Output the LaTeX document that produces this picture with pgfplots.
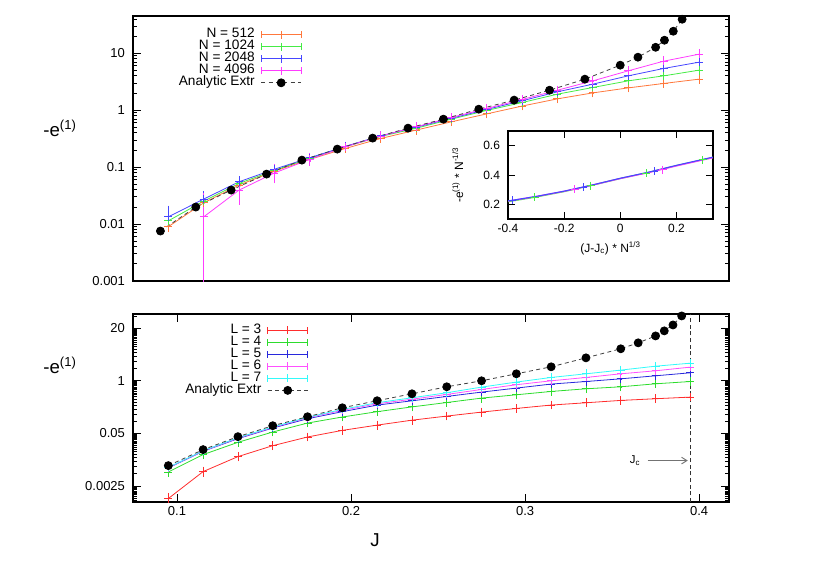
\documentclass[border=0pt]{standalone}
\usepackage{fontspec}
\setmainfont{Liberation Sans}
\usepackage{pgfplots}
\pgfplotsset{compat=1.18}
\usetikzlibrary{arrows.meta}

\definecolor{cOrange}{RGB}{255,120,60}
\definecolor{cLgreen}{RGB}{70,235,70}
\definecolor{cLblue}{RGB}{70,70,255}
\definecolor{cLmag}{RGB}{255,60,255}
\definecolor{cRed}{RGB}{255,45,45}
\definecolor{cGreen}{RGB}{45,220,45}
\definecolor{cBlue}{RGB}{40,40,220}
\definecolor{cMag}{RGB}{255,80,255}
\definecolor{cCyan}{RGB}{50,250,250}

\pgfplotsset{
  panel/.style={
    scale only axis, anchor=south west,
    tick align=inside, major tick length=6pt, minor tick length=3pt,
    axis line style={line width=0.8pt},
    every tick/.style={black, line width=0.6pt},
    tick label style={font=\fontsize{9.75}{11}\selectfont},
    yticklabel style={xshift=-2.5pt},
    legend plot pos=right, legend cell align=right,
    legend style={draw=none, fill=none, font=\fontsize{10.25}{11}\selectfont,
      row sep=-1.3pt, column sep=4pt,
      nodes={inner sep=0.5pt, text height=7pt, text depth=2.3pt}},
  },
  ser/.style={line width=0.6pt, mark=+, mark size=3pt,
    error bars/.cd, y dir=both, y explicit,
    error mark options={mark size=3pt, line width=0.6pt}},
  ebleg/.style={legend image code/.code={
      \draw[##1, mark=none] (0pt,0pt) -- (30pt,0pt);
      \draw[##1, mark=none] (0pt,-2.5pt) -- (0pt,2.5pt) (30pt,-2.5pt) -- (30pt,2.5pt);
      \draw[##1] plot coordinates {(15pt,0pt)};
    }},
  extr/.style={black!75, line width=0.6pt, dash pattern=on 3pt off 2.5pt,
    mark=*, mark size=3pt, mark options={solid, fill=black, draw=black}},
  exleg/.style={legend image code/.code={
      \draw[mark repeat=2, mark phase=2, ##1] plot coordinates {(0pt,0pt) (15pt,0pt) (30pt,0pt)};
    }},
}

\begin{document}
\begin{tikzpicture}
\path[use as bounding box] (0,0) rectangle (622.5pt,440.25pt);

% ---------- top panel ----------
\begin{axis}[panel,
  at={(99.75pt,229.5pt)}, width=447pt, height=198.75pt,
  ymode=log, xmin=0.075, xmax=0.412, ymin=0.001, ymax=45,
  xtick=\empty,
  ytick={0.001,0.01,0.1,1,10}, yticklabels={0.001,0.01,0.1,1,10},
  minor ytick={0.002,0.003,0.004,0.005,0.006,0.007,0.008,0.009,
    0.02,0.03,0.04,0.05,0.06,0.07,0.08,0.09,
    0.2,0.3,0.4,0.5,0.6,0.7,0.8,0.9,
    2,3,4,5,6,7,8,9,20,30,40},
  legend style={at={(0.29,0.966)}, anchor=north east},
]
\addplot[cOrange, ebleg, ser] coordinates {
  (0.095,0.0090) +- (0,0.0005) (0.115,0.0236) +- (0,0.0008)
  (0.135,0.0484) +- (0,0.0012) (0.155,0.085) +- (0,0.002)
  (0.175,0.137) +- (0,0.003) (0.195,0.212) +- (0,0.004)
  (0.215,0.318) +- (0,0.006) (0.235,0.446) +- (0,0.008)
  (0.255,0.624) +- (0,0.01) (0.275,0.86) +- (0,0.015)
  (0.295,1.18) +- (0,0.02) (0.315,1.58) +- (0,0.03)
  (0.335,2.01) +- (0,0.04) (0.355,2.46) +- (0,0.05)
  (0.375,2.94) +- (0,0.06) (0.395,3.50) +- (0,0.07)
};
\addlegendentry{N = 512}
\addplot[cLgreen, ebleg, ser] coordinates {
  (0.095,0.0114) +- (0,0.0015) (0.115,0.0253) +- (0,0.0015)
  (0.135,0.0517) +- (0,0.002) (0.155,0.088) +- (0,0.003)
  (0.175,0.142) +- (0,0.004) (0.195,0.227) +- (0,0.005)
  (0.215,0.345) +- (0,0.007) (0.235,0.48) +- (0,0.01)
  (0.255,0.695) +- (0,0.014) (0.275,0.99) +- (0,0.02)
  (0.295,1.36) +- (0,0.03) (0.315,1.91) +- (0,0.04)
  (0.335,2.5) +- (0,0.05) (0.355,3.27) +- (0,0.07)
  (0.375,4.0) +- (0,0.09) (0.395,5.03) +- (0,0.11)
};
\addlegendentry{N = 1024}
\addplot[cLblue, ebleg, ser] coordinates {
  (0.095,0.0134) +- (0,0.0046) (0.115,0.0275) +- (0,0.0052)
  (0.135,0.0553) +- (0,0.004) (0.155,0.092) +- (0,0.004)
  (0.175,0.146) +- (0,0.005) (0.195,0.231) +- (0,0.006)
  (0.215,0.355) +- (0,0.008) (0.235,0.50) +- (0,0.012)
  (0.255,0.72) +- (0,0.016) (0.275,1.03) +- (0,0.024)
  (0.295,1.46) +- (0,0.035) (0.315,2.10) +- (0,0.05)
  (0.335,2.86) +- (0,0.07) (0.355,4.0) +- (0,0.1)
  (0.375,5.39) +- (0,0.13) (0.395,6.95) +- (0,0.17)
};
\addlegendentry{N = 2048}
\addplot[cLmag, ebleg, ser] coordinates {
  (0.115,0.0134) += (0,0.017) -= (0,0.0129)
  (0.135,0.0395) += (0,0.009) -= (0,0.014)
  (0.155,0.079) +- (0,0.018) (0.175,0.137) +- (0,0.012)
  (0.195,0.227) +- (0,0.01) (0.215,0.35) +- (0,0.01)
  (0.235,0.51) +- (0,0.014) (0.255,0.744) +- (0,0.02)
  (0.275,1.07) +- (0,0.03) (0.295,1.54) +- (0,0.045)
  (0.315,2.24) +- (0,0.065) (0.335,3.27) +- (0,0.1)
  (0.355,4.9) +- (0,0.15) (0.375,7.24) +- (0,0.22)
  (0.395,9.6) +- (0,0.3)
};
\addlegendentry{N = 4096}
\addplot[extr, exleg] coordinates {
  (0.0905,0.00754) (0.1105,0.0199) (0.1305,0.0395) (0.1505,0.0754)
  (0.1705,0.1327) (0.1905,0.207) (0.2105,0.323) (0.2305,0.483)
  (0.2505,0.695) (0.2705,1.04) (0.2905,1.50) (0.3105,2.24)
  (0.3305,3.50) (0.3505,6.16) (0.3605,8.51) (0.3705,12.7)
  (0.3755,16.9) (0.3805,24.3) (0.3855,39.5)
};
\addlegendentry{Analytic Extr}
\end{axis}

% ---------- inset ----------
\begin{axis}[panel,
  at={(381pt,276pt)}, width=153.75pt, height=66pt,
  axis background/.style={fill=white},
  major tick length=5pt,
  tick label style={font=\fontsize{9}{10}\selectfont},
  label style={font=\fontsize{9}{10}\selectfont},
  xmin=-0.4, xmax=0.33, ymin=0.1, ymax=0.7,
  xtick={-0.4,-0.2,0,0.2}, xticklabels={-0.4,-0.2,0,0.2},
  ytick={0.2,0.4,0.6}, yticklabels={0.2,0.4,0.6},
  xlabel={(J-J\textsubscript{c}) * N\textsuperscript{1/3}},
  ylabel={-e\textsuperscript{(1)} * N\textsuperscript{-1/3}},
  xlabel style={at={(0.5,-0.33)}, anchor=center},
  ylabel style={at={(-0.245,0.5)}, anchor=center},
]
\addplot[cLgreen, line width=0.9pt] coordinates {
  (-0.4,0.218) (-0.3,0.250) (-0.2,0.287) (-0.1,0.330) (0,0.376) (0.1,0.418) (0.2,0.464) (0.33,0.520)};
\addplot[cLmag, line width=0.9pt] coordinates {
  (-0.4,0.222) (-0.3,0.253) (-0.2,0.289) (-0.1,0.331) (0,0.376) (0.1,0.416) (0.2,0.462) (0.33,0.518)};
\addplot[cLblue, line width=0.8pt] coordinates {
  (-0.4,0.223) (-0.3,0.254) (-0.2,0.290) (-0.1,0.332) (0,0.378) (0.1,0.419) (0.2,0.466) (0.33,0.522)};
\addplot[cLgreen, only marks, mark=+, mark size=3pt, line width=0.6pt] coordinates {
  (-0.305,0.250) (-0.106,0.327) (0.092,0.412) (0.294,0.503)};
\addplot[cLmag, only marks, mark=+, mark size=3pt, line width=0.6pt] coordinates {
  (-0.163,0.302) (0.151,0.437)};
\addplot[cLblue, only marks, mark=+, mark size=3pt, line width=0.6pt] coordinates {
  (-0.385,0.227) (-0.132,0.317) (0.12,0.426)};
\end{axis}

% ---------- bottom panel ----------
\begin{axis}[panel,
  at={(99.75pt,63.75pt)}, width=447pt, height=141pt,
  ymode=log, xmin=0.0747, xmax=0.4172, ymin=0.001, ymax=45,
  xtick={0.1,0.2,0.3,0.4}, xticklabels={0.1,0.2,0.3,0.4},
  ytick={0.0025,0.05,1,20}, yticklabels={0.0025,0.05,1,20},
  minor ytick={0.001,0.001125,0.00125,0.001375,0.0015,0.001625,0.00175,0.001875,0.002,0.002125,0.00225,0.002375,
    0.005,0.0075,0.01,0.0125,0.015,0.0175,0.02,0.0225,0.025,0.0275,0.03,0.0325,0.035,0.0375,0.04,0.0425,0.045,0.0475,
    0.1,0.15,0.2,0.25,0.3,0.35,0.4,0.45,0.5,0.55,0.6,0.65,0.7,0.75,0.8,0.85,0.9,0.95,
    2,3,4,5,6,7,8,9,10,11,12,13,14,15,16,17,18,19,40},
  legend style={at={(0.301,0.965)}, anchor=north east},
]
\addplot[cRed, ebleg, ser] coordinates {
  (0.095,0.00122) +- (0,0.00012) (0.115,0.00566) +- (0,0.0003)
  (0.135,0.0133) +- (0,0.0005) (0.155,0.0248) +- (0,0.0008)
  (0.175,0.0407) +- (0,0.001) (0.195,0.0593) +- (0,0.0015)
  (0.215,0.080) +- (0,0.002) (0.235,0.106) +- (0,0.0025)
  (0.255,0.134) +- (0,0.003) (0.275,0.168) +- (0,0.004)
  (0.295,0.207) +- (0,0.005) (0.315,0.251) +- (0,0.006)
  (0.335,0.286) +- (0,0.007) (0.355,0.327) +- (0,0.008)
  (0.375,0.36) +- (0,0.009) (0.395,0.395) +- (0,0.01)
};
\addlegendentry{L = 3}
\addplot[cGreen, ebleg, ser] coordinates {
  (0.095,0.00556) +- (0,0.0002) (0.115,0.0149) +- (0,0.0004)
  (0.135,0.030) +- (0,0.0008) (0.155,0.054) +- (0,0.0013)
  (0.175,0.090) +- (0,0.002) (0.195,0.127) +- (0,0.003)
  (0.215,0.172) +- (0,0.004) (0.235,0.226) +- (0,0.005)
  (0.255,0.29) +- (0,0.007) (0.275,0.373) +- (0,0.009)
  (0.295,0.451) +- (0,0.011) (0.315,0.545) +- (0,0.013)
  (0.335,0.634) +- (0,0.015) (0.355,0.711) +- (0,0.017)
  (0.375,0.843) +- (0,0.02) (0.395,0.96) +- (0,0.023)
};
\addlegendentry{L = 4}
\addplot[cBlue, ebleg, ser] coordinates {
  (0.095,0.0070) +- (0,0.0002) (0.115,0.018) +- (0,0.0005)
  (0.135,0.037) +- (0,0.001) (0.155,0.0678) +- (0,0.0017)
  (0.175,0.115) +- (0,0.003) (0.195,0.172) +- (0,0.004)
  (0.215,0.25) +- (0,0.006) (0.235,0.32) +- (0,0.008)
  (0.255,0.41) +- (0,0.01) (0.275,0.525) +- (0,0.013)
  (0.295,0.66) +- (0,0.016) (0.315,0.83) +- (0,0.02)
  (0.335,0.96) +- (0,0.023) (0.355,1.12) +- (0,0.027)
  (0.375,1.33) +- (0,0.032) (0.395,1.58) +- (0,0.038)
};
\addlegendentry{L = 5}
\addplot[cMag, ebleg, ser] coordinates {
  (0.095,0.0071) +- (0,0.0002) (0.115,0.0183) +- (0,0.0005)
  (0.135,0.038) +- (0,0.001) (0.155,0.070) +- (0,0.0017)
  (0.175,0.122) +- (0,0.003) (0.195,0.185) +- (0,0.0045)
  (0.215,0.27) +- (0,0.0065) (0.235,0.35) +- (0,0.0085)
  (0.255,0.46) +- (0,0.011) (0.275,0.61) +- (0,0.015)
  (0.295,0.80) +- (0,0.02) (0.315,1.0) +- (0,0.025)
  (0.335,1.21) +- (0,0.03) (0.355,1.49) +- (0,0.036)
  (0.375,1.77) +- (0,0.043) (0.395,2.18) +- (0,0.053)
};
\addlegendentry{L = 6}
\addplot[cCyan, ebleg, ser] coordinates {
  (0.095,0.0072) +- (0,0.0002) (0.115,0.0186) +- (0,0.0005)
  (0.135,0.039) +- (0,0.001) (0.155,0.072) +- (0,0.0018)
  (0.175,0.125) +- (0,0.003) (0.195,0.196) +- (0,0.005)
  (0.215,0.287) +- (0,0.007) (0.235,0.38) +- (0,0.009)
  (0.255,0.506) +- (0,0.012) (0.275,0.698) +- (0,0.017)
  (0.295,0.93) +- (0,0.022) (0.315,1.21) +- (0,0.03)
  (0.335,1.49) +- (0,0.036) (0.355,1.84) +- (0,0.045)
  (0.375,2.3) +- (0,0.055) (0.395,2.73) +- (0,0.066)
};
\addlegendentry{L = 7}
\addplot[extr, exleg] coordinates {
  (0.095,0.00796) (0.115,0.0198) (0.135,0.0414) (0.155,0.0774)
  (0.175,0.129) (0.195,0.215) (0.215,0.321) (0.235,0.477)
  (0.255,0.711) (0.275,1.0) (0.295,1.49) (0.315,2.22)
  (0.335,3.70) (0.355,6.2) (0.365,8.7) (0.375,12.9)
  (0.38,17.2) (0.385,24.1) (0.39,40.3)
};
\addlegendentry{Analytic Extr}
\addplot[black!80, line width=0.6pt, dash pattern=on 3pt off 2pt, forget plot]
  coordinates {(0.3952,0.001) (0.3952,45)};
\draw[black!55, line width=0.7pt, -{Straight Barb[length=4pt,width=5pt]}]
  (axis cs:0.3705,0.0106) -- (axis cs:0.3935,0.0106);
\node[font=\fontsize{8.5}{9}\selectfont] at (axis cs:0.3632,0.0106) {J\textsubscript{c}};
\end{axis}

% ---------- outer labels ----------
\node[font=\fontsize{14}{16}\selectfont] at (45pt,344.25pt) {-e\textsuperscript{(1)}};
\node[font=\fontsize{14}{16}\selectfont] at (45pt,166.5pt) {-e\textsuperscript{(1)}};
\node[font=\fontsize{14}{16}\selectfont] at (281.25pt,35.25pt) {J};
\end{tikzpicture}
\end{document}
